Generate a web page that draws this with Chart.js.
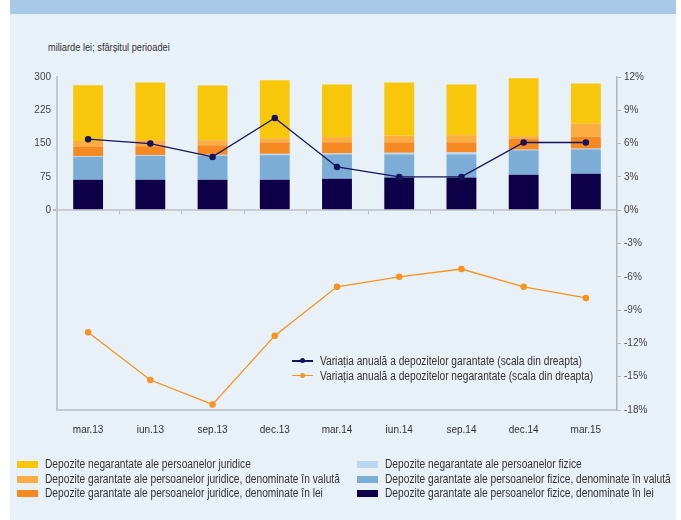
<!DOCTYPE html>
<html>
<head>
<meta charset="utf-8">
<script src="https://cdn.jsdelivr.net/npm/chart.js@4"></script>
<style>
    html, body { margin: 0; padding: 0; background: #ffffff; }
    body { width: 681px; height: 520px; position: relative; overflow: hidden;
           font-family: 'Liberation Sans', Arial, sans-serif; color: #333; }
    #panel { position: absolute; left: 10px; top: 0; width: 666px; height: 520px; background: #e8f0f8; }
    #banner { position: absolute; left: 10px; top: 0; width: 666px; height: 14px; background: #a7c8e6; }
    #unit { position: absolute; left: 48px; top: 41px; font-size: 11px; color: #333;
            transform: scaleX(0.84); transform-origin: left top; white-space: nowrap; }
    #chartBox { position: absolute; left: 0; top: 0; width: 681px; height: 520px; }
    .legend { position: absolute; font-size: 12px; color: #333; line-height: 14.5px; }
    .legend div { white-space: nowrap; position: relative; padding-left: 28px; height: 14.5px; }
    .legend .txt { display: inline-block; transform: scaleX(0.85); transform-origin: left top; }
    .legend .sw { position: absolute; left: 0; top: 4px; width: 21px; height: 7px; }
    .legend .ln { position: absolute; left: 0; top: 6px; width: 21px; height: 1.5px; }
    .legend .pt { position: absolute; left: 8px; top: 4px; width: 5px; height: 5px; border-radius: 50%; }
</style>
</head>
<body>
<div id="panel"></div>
<div id="banner"></div>
<div id="unit">miliarde lei; sfârșitul perioadei</div>
<div id="chartBox"><canvas id="chart" width="681" height="520"></canvas></div>
<div class="legend" id="lineLegend" style="left:292px; top:354px;"></div>
<div class="legend" id="legendLeft" style="left:17px; top:457px;"></div>
<div class="legend" id="legendRight" style="left:357px; top:457px;"></div>

<script>
const labels = ['mar.13', 'iun.13', 'sep.13', 'dec.13', 'mar.14', 'iun.14', 'sep.14', 'dec.14', 'mar.15'];

// miliarde lei, bottom to top of the stack
const fizLei = [68.5, 68.5, 68.5, 68.5, 70.8, 73.9, 73.9, 80.0, 82.2];
const fizValuta = [51.5, 53.5, 54.4, 55.5, 54.8, 51.7, 51.7, 54.8, 54.8];
const negFizice = [2.0, 2.0, 2.0, 3.0, 2.3, 3.8, 4.6, 1.5, 1.6];
const jurLei = [20.5, 20.0, 21.3, 26.0, 25.1, 23.6, 22.8, 24.4, 26.6];
const jurValuta = [13.6, 13.6, 11.4, 9.2, 11.5, 14.5, 16.0, 6.0, 29.7];
const negJuridice = [125.4, 130.2, 123.4, 130.2, 118.7, 120.3, 114.2, 130.3, 90.6];

// % annual change, right scale
const varGarantate = [6.4, 6.0, 4.8, 8.3, 3.9, 3.0, 3.0, 6.1, 6.1];
const varNegarantate = [-11.0, -15.3, -17.5, -11.3, -6.9, -6.0, -5.3, -6.9, -7.9];

const barNames = [
    'Depozite garantate ale persoanelor fizice, denominate în lei',
    'Depozite garantate ale persoanelor fizice, denominate în valută',
    'Depozite negarantate ale persoanelor fizice',
    'Depozite garantate ale persoanelor juridice, denominate în lei',
    'Depozite garantate ale persoanelor juridice, denominate în valută',
    'Depozite negarantate ale persoanelor juridice'
];
const barColors = ['#0e0048', '#7badd6', '#bdd8ee', '#f68a22', '#fbad42', '#f8c70b'];
const barValues = [fizLei, fizValuta, negFizice, jurLei, jurValuta, negJuridice];

const lineNames = [
    'Variația anuală a depozitelor garantate (scala din dreapta)',
    'Variația anuală a depozitelor negarantate (scala din dreapta)'
];
const lineColors = ['#15125e', '#f7931e'];
const lineValues = [varGarantate, varNegarantate];

const fontFamily = "'Liberation Sans', Arial, sans-serif";

const datasets = [];
lineValues.forEach((vals, i) => {
    datasets.push({
        type: 'line',
        label: lineNames[i],
        data: vals,
        yAxisID: 'y1',
        borderColor: lineColors[i],
        backgroundColor: lineColors[i],
        borderWidth: 1.3,
        pointRadius: 2.6,
        pointHoverRadius: 2.6,
        tension: 0,
        order: 0
    });
});
barValues.forEach((vals, i) => {
    datasets.push({
        type: 'bar',
        label: barNames[i],
        data: vals,
        yAxisID: 'y',
        backgroundColor: barColors[i],
        borderWidth: 0,
        categoryPercentage: 1,
        barPercentage: 0.48,
        order: 1
    });
});

// small tick marks between categories, on the zero line
const zeroTicks = {
    id: 'zeroTicks',
    afterDatasetsDraw(chart) {
        const ctx = chart.ctx;
        const x = chart.scales.x;
        const y0 = chart.scales.y.getPixelForValue(0);
        ctx.save();
        ctx.strokeStyle = '#b9c0c8';
        ctx.lineWidth = 1;
        for (let i = 1; i < labels.length; i++) {
            const px = Math.round((x.getPixelForValue(i - 1) + x.getPixelForValue(i)) / 2) + 0.5;
            ctx.beginPath();
            ctx.moveTo(px, y0);
            ctx.lineTo(px, y0 + 4);
            ctx.stroke();
        }
        ctx.restore();
    }
};

new Chart(document.getElementById('chart').getContext('2d'), {
    data: { labels: labels, datasets: datasets },
    plugins: [zeroTicks],
    options: {
        responsive: false,
        animation: false,
        layout: { padding: { top: 77, left: 0, right: 0, bottom: 0 } },
        plugins: { legend: { display: false }, tooltip: { enabled: false } },
        scales: {
            x: {
                stacked: true,
                grid: { display: false },
                border: { display: true, color: '#c3c8ce', width: 2 },
                ticks: { color: '#333', font: { family: fontFamily, size: 10 }, padding: 6, maxRotation: 0 },
                afterFit(scale) { scale.height = 110; }
            },
            y: {
                stacked: true,
                position: 'left',
                min: -450,
                max: 300,
                ticks: {
                    stepSize: 75,
                    color: '#444',
                    font: { family: fontFamily, size: 10 },
                    padding: 2,
                    callback: v => v >= 0 ? v : ''
                },
                grid: {
                    drawOnChartArea: true,
                    color: ctx => ctx.tick && ctx.tick.value === 0 ? '#c8cdd3' : 'rgba(0,0,0,0)',
                    lineWidth: ctx => ctx.tick && ctx.tick.value === 0 ? 2 : 0,
                    tickColor: '#b5b5b5',
                    tickLength: 4
                },
                border: { display: true, color: '#c3c8ce', width: 2 },
                afterFit(scale) { scale.width = 57; }
            },
            y1: {
                position: 'right',
                min: -18,
                max: 12,
                ticks: {
                    stepSize: 3,
                    color: '#444',
                    font: { family: fontFamily, size: 10 },
                    padding: 3,
                    callback: v => v + '%'
                },
                grid: { drawOnChartArea: false, tickColor: '#b5b5b5', tickLength: 4 },
                border: { display: true, color: '#b5b5b5', width: 1.5 },
                afterFit(scale) { scale.width = 64; }
            }
        }
    }
});

// legends as html, built from the same names and colours
function addSwatch(box, name, color) {
    const row = document.createElement('div');
    row.innerHTML = '<span class="sw" style="background:' + color + '"></span><span class="txt">' + name + '</span>';
    box.appendChild(row);
}
const leftBox = document.getElementById('legendLeft');
const rightBox = document.getElementById('legendRight');
[5, 4, 3].forEach(i => addSwatch(leftBox, barNames[i], barColors[i]));
[2, 1, 0].forEach(i => addSwatch(rightBox, barNames[i], barColors[i]));

const lineBox = document.getElementById('lineLegend');
lineNames.forEach((name, i) => {
    const row = document.createElement('div');
    row.innerHTML = '<span class="ln" style="background:' + lineColors[i] + '"></span>' +
        '<span class="pt" style="background:' + lineColors[i] + '"></span><span class="txt">' + name + '</span>';
    lineBox.appendChild(row);
});
</script>
</body>
</html>
